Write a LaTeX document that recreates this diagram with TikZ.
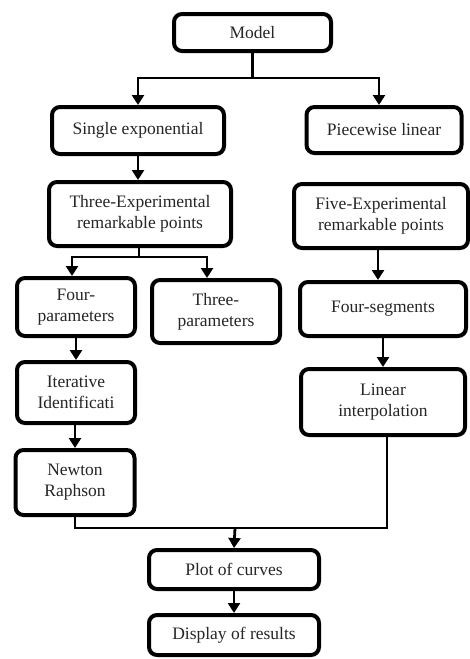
\documentclass[tikz,border=0pt]{standalone}
\usepackage{fontspec}
\setmainfont{Liberation Serif}
\usetikzlibrary{arrows.meta, positioning}

\begin{document}
\begin{tikzpicture}[x=1pt, y=-1pt,
      box/.style={
        rectangle, rounded corners=8pt, line width=4pt,
        draw=black, fill=white, font=\fontsize{17.5}{21}\selectfont,
        text=black!85, align=center, inner sep=2pt
      },
      arr/.style={-{Triangle[length=10pt, width=12pt]}, line width=2.8pt},
      link/.style={line width=2.8pt}
  ]
    \useasboundingbox (0,0) rectangle (470,659);

    % top levels
    \node[box, minimum width=157pt, minimum height=37pt] (model)  at (252.5,32.5) {Model};
    \node[box, minimum width=172pt, minimum height=47pt] (single) at (138,130.5) {Single exponential};
    \node[box, minimum width=155pt, minimum height=46pt] (piece)  at (384,130) {Piecewise linear};
    \node[box, minimum width=182pt, minimum height=64pt] (threex) at (140,214) {Three-Experimental\\remarkable points};
    \node[box, minimum width=174pt, minimum height=64pt] (fivex)  at (381,216) {Five-Experimental\\remarkable points};

    % left branch
    \node[box, minimum width=118pt, minimum height=58pt] (fourpar)  at (76,307) {Four-\\parameters};
    \node[box, minimum width=128pt, minimum height=63pt] (threepar) at (216,311.5) {Three-\\parameters};
    \node[box, minimum width=118pt, minimum height=61pt] (iter)     at (76,392.5) {Iterative\\Identificati};
    \node[box, minimum width=119pt, minimum height=65pt] (newton)   at (75,482.5) {Newton\\Raphson};

    % right branch
    \node[box, minimum width=166pt, minimum height=54pt] (fourseg) at (383,309) {Four-segments};
    \node[box, minimum width=164pt, minimum height=66pt] (linint)  at (383,402) {Linear\\interpolation};

    % results
    \node[box, minimum width=170pt, minimum height=39pt] (plot)    at (234,569.5) {Plot of curves};
    \node[box, minimum width=170pt, minimum height=40pt] (display) at (234,635) {Display of results};

    \coordinate (split1) at (252.5,78);
    \coordinate (split2) at (139,257);
    \coordinate (merge)  at (235,528);

    \draw[link] (model.south) -- (split1);
    \draw[arr] (split1) -| (single.north);
    \draw[arr] (split1) -| ([xshift=-5pt]piece.north);
    \draw[arr] (single.south) -- (single.south |- threex.north);
    \draw[arr] ([xshift=-3pt]fivex.south) -- ([xshift=-3pt]fivex.south |- fourseg.north);

    \draw[link] (split2 |- threex.south) -- (split2);
    \draw[arr] (split2) -| ([xshift=-4pt]fourpar.north);
    \draw[arr] (split2) -| ([xshift=-9pt]threepar.north);
    \draw[arr] (fourpar.south) -- (iter.north);
    \draw[arr] (iter.south) -- (newton.north |- iter.south) -- (newton.north);
    \draw[arr] (fourseg.south) -- (fourseg.south |- linint.north);

    \draw[link] (newton.south) |- (merge);
    \draw[link] ([xshift=4pt]linint.south) |- (merge);
    \draw[arr] (merge) -- (plot.north);
    \draw[arr] (plot.south) -- (display.north);
  \end{tikzpicture}
\end{document}
